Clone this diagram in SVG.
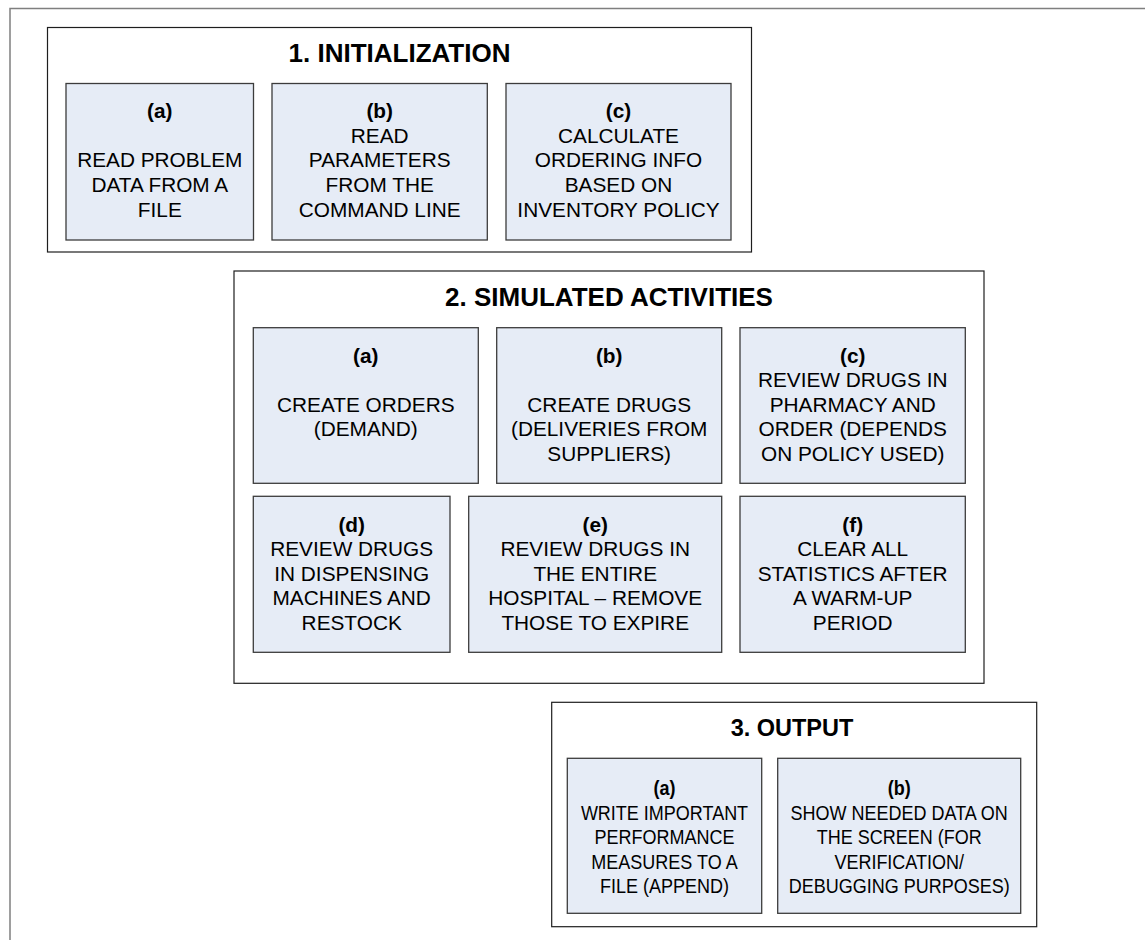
<svg xmlns="http://www.w3.org/2000/svg" width="1145" height="940" viewBox="0 0 1145 940">
  <style>
    .frame { fill: none; stroke: #7f7f7f; stroke-width: 1.5; }
    .section { fill: #ffffff; stroke: #1e1e1e; stroke-width: 1.2; }
    .task { fill: #e6ecf6; stroke: #3c3c3c; stroke-width: 1.3; }
    .title { font-family: "Liberation Sans", Arial, sans-serif; font-weight: bold; font-size: 26px; fill: #000; text-anchor: middle; }
    .t3 { font-size: 23.5px; }
    .body { font-family: "Liberation Sans", Arial, sans-serif; font-size: 20.8px; fill: #000; text-anchor: middle; }
    .lbl { font-weight: bold; }
  </style>
  <rect x="0" y="0" width="1145" height="940" fill="#ffffff"/>
  <!-- page frame -->
  <path class="frame" d="M10,940 V8.5 H1145"/>

  <!-- 1. INITIALIZATION -->
  <g id="initialization">
    <rect class="section" x="47.5" y="27.5" width="704" height="224.5"/>
    <text class="title" x="399.5" y="62">1. INITIALIZATION</text>
  </g>
  <g id="init-a">
    <rect class="task" x="66" y="83.5" width="187.5" height="156.5"/>
    <text class="body" x="159.8"><tspan class="lbl" x="159.8" y="118">(a)</tspan><tspan x="159.8" y="167.4">READ PROBLEM</tspan><tspan x="159.8" y="192.1">DATA FROM A</tspan><tspan x="159.8" y="216.8">FILE</tspan></text>
  </g>
  <g id="init-b">
    <rect class="task" x="272" y="83.5" width="215.3" height="156.5"/>
    <text class="body"><tspan class="lbl" x="379.7" y="118">(b)</tspan><tspan x="379.7" y="142.7">READ</tspan><tspan x="379.7" y="167.4">PARAMETERS</tspan><tspan x="379.7" y="192.1">FROM THE</tspan><tspan x="379.7" y="216.8">COMMAND LINE</tspan></text>
  </g>
  <g id="init-c">
    <rect class="task" x="506" y="83.5" width="225" height="156.5"/>
    <text class="body"><tspan class="lbl" x="618.5" y="118">(c)</tspan><tspan x="618.5" y="142.7">CALCULATE</tspan><tspan x="618.5" y="167.4">ORDERING INFO</tspan><tspan x="618.5" y="192.1">BASED ON</tspan><tspan x="618.5" y="216.8">INVENTORY POLICY</tspan></text>
  </g>

  <!-- 2. SIMULATED ACTIVITIES -->
  <g id="simulated-activities">
    <rect class="section" x="234" y="271" width="750" height="412.3"/>
    <text class="title" x="609" y="305.5">2. SIMULATED ACTIVITIES</text>
  </g>
  <g id="sim-a">
    <rect class="task" x="253.3" y="327.7" width="225" height="155.6"/>
    <text class="body"><tspan class="lbl" x="365.8" y="362.5">(a)</tspan><tspan x="365.8" y="411.7">CREATE ORDERS</tspan><tspan x="365.8" y="436.3">(DEMAND)</tspan></text>
  </g>
  <g id="sim-b">
    <rect class="task" x="496.7" y="327.7" width="225" height="155.6"/>
    <text class="body"><tspan class="lbl" x="609.2" y="362.5">(b)</tspan><tspan x="609.2" y="411.7">CREATE DRUGS</tspan><tspan x="609.2" y="436.3">(DELIVERIES FROM</tspan><tspan x="609.2" y="460.9">SUPPLIERS)</tspan></text>
  </g>
  <g id="sim-c">
    <rect class="task" x="740" y="327.7" width="225.3" height="155.6"/>
    <text class="body"><tspan class="lbl" x="852.7" y="362.5">(c)</tspan><tspan x="852.7" y="387.1">REVIEW DRUGS IN</tspan><tspan x="852.7" y="411.7">PHARMACY AND</tspan><tspan x="852.7" y="436.3">ORDER (DEPENDS</tspan><tspan x="852.7" y="460.9">ON POLICY USED)</tspan></text>
  </g>
  <g id="sim-d">
    <rect class="task" x="253.3" y="496.3" width="196.7" height="156"/>
    <text class="body"><tspan class="lbl" x="351.7" y="531.7">(d)</tspan><tspan x="351.7" y="556.2">REVIEW DRUGS</tspan><tspan x="351.7" y="580.7">IN DISPENSING</tspan><tspan x="351.7" y="605.2">MACHINES AND</tspan><tspan x="351.7" y="629.7">RESTOCK</tspan></text>
  </g>
  <g id="sim-e">
    <rect class="task" x="468.7" y="496.3" width="253" height="156"/>
    <text class="body"><tspan class="lbl" x="595.2" y="531.7">(e)</tspan><tspan x="595.2" y="556.2">REVIEW DRUGS IN</tspan><tspan x="595.2" y="580.7">THE ENTIRE</tspan><tspan x="595.2" y="605.2">HOSPITAL – REMOVE</tspan><tspan x="595.2" y="629.7">THOSE TO EXPIRE</tspan></text>
  </g>
  <g id="sim-f">
    <rect class="task" x="740" y="496.3" width="225.3" height="156"/>
    <text class="body"><tspan class="lbl" x="852.7" y="531.7">(f)</tspan><tspan x="852.7" y="556.2">CLEAR ALL</tspan><tspan x="852.7" y="580.7">STATISTICS AFTER</tspan><tspan x="852.7" y="605.2">A WARM-UP</tspan><tspan x="852.7" y="629.7">PERIOD</tspan></text>
  </g>

  <!-- 3. OUTPUT -->
  <g id="output">
    <rect class="section" x="551.7" y="702.3" width="485" height="224.4"/>
    <text class="title t3" x="792" y="736">3. OUTPUT</text>
  </g>
  <g id="out-a">
    <rect class="task" x="567.3" y="758.3" width="194.4" height="155"/>
    <g transform="translate(664.5,0) scale(0.9,1)">
      <text class="body" style="font-size:20px"><tspan class="lbl" x="0" y="795">(a)</tspan><tspan x="0" y="819.6">WRITE IMPORTANT</tspan><tspan x="0" y="844.2">PERFORMANCE</tspan><tspan x="0" y="868.8">MEASURES TO A</tspan><tspan x="0" y="893.4">FILE (APPEND)</tspan></text>
    </g>
  </g>
  <g id="out-b">
    <rect class="task" x="777.7" y="758.3" width="243" height="155"/>
    <g transform="translate(899.2,0) scale(0.9,1)">
      <text class="body" style="font-size:20px"><tspan class="lbl" x="0" y="795">(b)</tspan><tspan x="0" y="819.6">SHOW NEEDED DATA ON</tspan><tspan x="0" y="844.2">THE SCREEN (FOR</tspan><tspan x="0" y="868.8">VERIFICATION/</tspan><tspan x="0" y="893.4">DEBUGGING PURPOSES)</tspan></text>
    </g>
  </g>

  <!-- no connectors between these blocks -->
  <g id="connectors"/>
</svg>
